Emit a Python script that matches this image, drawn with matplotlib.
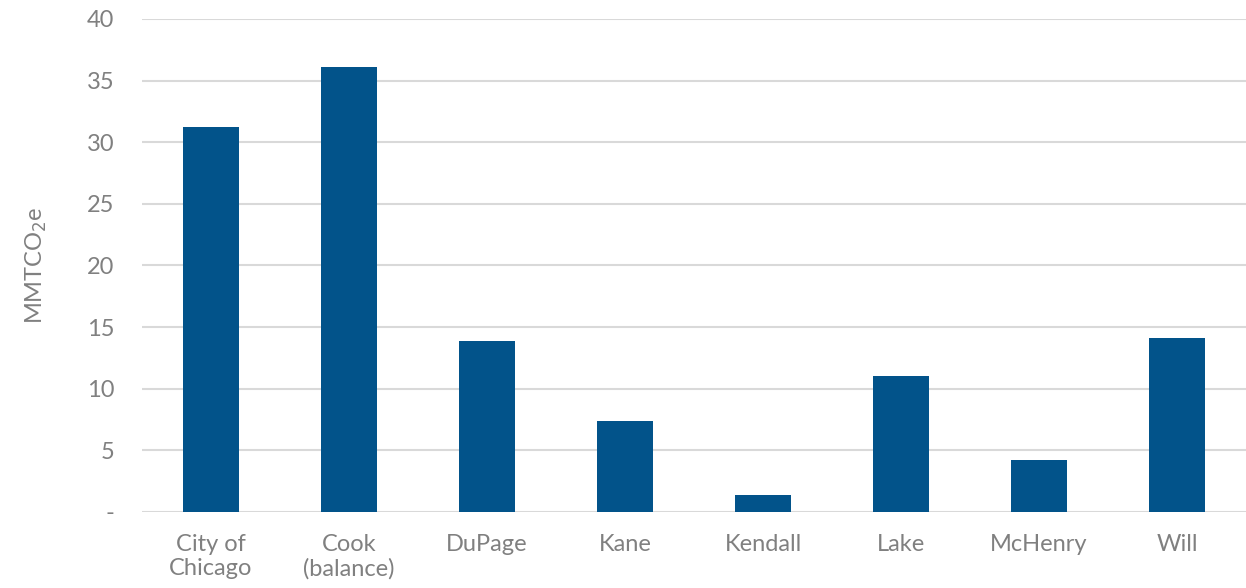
import matplotlib
matplotlib.use("Agg")
import matplotlib.pyplot as plt
import numpy as np

# Emissions by county (MMTCO2e)
counties = ["City of\nChicago", "Cook\n(balance)", "DuPage", "Kane", "Kendall",
            "Lake", "McHenry", "Will"]
emissions = [31.2, 36.1, 13.9, 7.4, 1.4, 11.0, 4.2, 14.1]
yticks = [0, 5, 10, 15, 20, 25, 30, 35, 40]
ytick_labels = ["-", "5", "10", "15", "20", "25", "30", "35", "40"]

plt.rcParams['font.family'] = ['Lato', 'DejaVu Sans']
text_color = '#808080'

fig = plt.figure(figsize=(12.46, 5.88), dpi=100)
ax = fig.add_axes([0.114, 0.1293, 0.886, 0.8384])

x = np.arange(len(counties))
ax.bar(x, emissions, width=0.4, color='#02538a', zorder=3)

ax.set_xlim(-0.5, len(counties) - 0.5)
ax.set_ylim(0, 40)
ax.set_yticks(yticks)
ax.set_yticklabels(ytick_labels)
ax.set_xticks(x)
ax.set_xticklabels(counties, linespacing=1.15)

ax.grid(axis='y', color='#d9d9d9', linewidth=1.5, zorder=0)
for s in ax.spines.values():
    s.set_visible(False)
ax.tick_params(axis='both', length=0, labelsize=17, labelcolor=text_color)
ax.tick_params(axis='y', pad=20)
ax.tick_params(axis='x', pad=16)
ax.set_ylabel("MMTCO$_2$e", fontsize=17, color=text_color, labelpad=27)

fig.savefig("out.png", dpi=100)
